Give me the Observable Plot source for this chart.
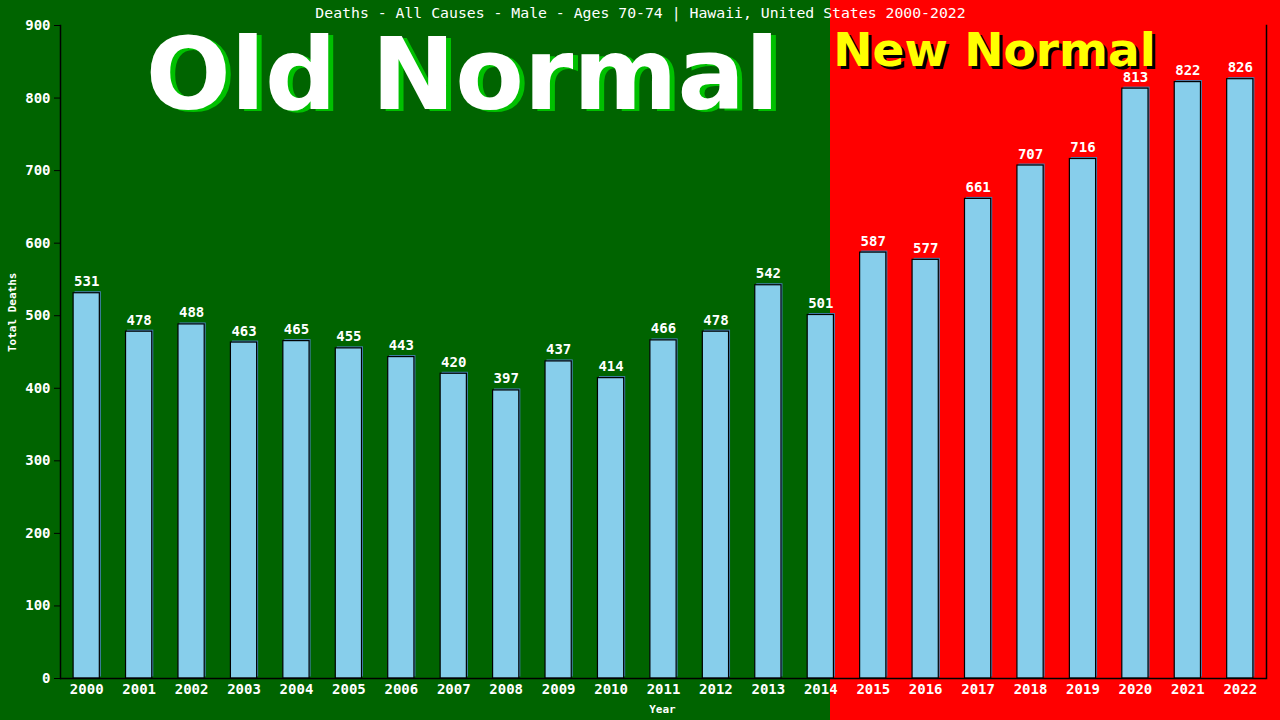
<!DOCTYPE html>
<html>
<head>
<meta charset="utf-8">
<script src="https://cdn.jsdelivr.net/npm/d3@7"></script>
<script src="https://cdn.jsdelivr.net/npm/@observablehq/plot@0.6"></script>
<style>
  html, body { margin: 0; padding: 0; width: 1280px; height: 720px; overflow: hidden;
    background: linear-gradient(to right, #006400 830px, #ff0000 830px); }
</style>
</head>
<body>
<div id="chart"></div>
<script>
const years = ["2000","2001","2002","2003","2004","2005","2006","2007","2008","2009","2010","2011","2012","2013","2014","2015","2016","2017","2018","2019","2020","2021","2022"];
const deaths = [531,478,488,463,465,455,443,420,397,437,414,466,478,542,501,587,577,661,707,716,813,822,826];
const yTicks = [0,100,200,300,400,500,600,700,800,900];
const title = "Deaths - All Causes - Male - Ages 70-74 | Hawaii, United States 2000-2022";
const xLabel = "Year";
const yLabel = "Total Deaths";
const oldLabel = "Old Normal";
const newLabel = "New Normal";

const data = years.map((y, i) => ({year: y, value: deaths[i]}));
const mono = "DejaVu Sans Mono, monospace";
const sans = "DejaVu Sans, sans-serif";

const chart = Plot.plot({
  width: 1280,
  height: 720,
  marginLeft: 60,
  marginRight: 14,
  marginTop: 25,
  marginBottom: 42,
  style: {background: "transparent", fontFamily: mono, color: "white"},
  x: {domain: years, paddingInner: 0.5, paddingOuter: 0.25, align: 0.5, round: false},
  y: {domain: [0, 900]},
  marks: [
    Plot.text([oldLabel], {frameAnchor: "top-left", text: d => d, dx: 407, dy: 85, lineAnchor: "bottom", fill: "#00c000", fontSize: 100, fontWeight: "bold", fontFamily: sans, textAnchor: "middle"}),
    Plot.text([oldLabel], {frameAnchor: "top-left", text: d => d, dx: 402, dy: 83, lineAnchor: "bottom", fill: "white", fontSize: 100, fontWeight: "bold", fontFamily: sans, textAnchor: "middle"}),
    Plot.text([newLabel], {frameAnchor: "top-left", text: d => d, dx: 937, dy: 43, lineAnchor: "bottom", fill: "black", fontSize: 47, fontWeight: "bold", fontFamily: sans, textAnchor: "middle"}),
    Plot.text([newLabel], {frameAnchor: "top-left", text: d => d, dx: 934, dy: 40, lineAnchor: "bottom", fill: "#ffff00", fontSize: 47, fontWeight: "bold", fontFamily: sans, textAnchor: "middle"}),
    Plot.barY(data, {x: "year", y: "value", fill: "#4682b4", dx: 1.5, dy: -1.5}),
    Plot.barY(data, {x: "year", y: "value", fill: "#87ceeb", stroke: "black", strokeWidth: 1.2}),
    Plot.text(data, {x: "year", y: "value", text: d => String(d.value), dy: -7, lineAnchor: "bottom", fill: "white", fontSize: 14, fontWeight: "bold", fontFamily: mono}),
    Plot.axisY({ticks: yTicks, tickSize: 6, tickPadding: 4, stroke: "black", fill: "white", fontSize: 14, fontWeight: "bold", label: null}),
    Plot.axisX({tickSize: 0, tickPadding: 6, fill: "white", fontSize: 14, fontWeight: "bold", label: null}),
    Plot.ruleY([0], {stroke: "black", strokeWidth: 1.5}),
    Plot.frame({anchor: "left", stroke: "black", strokeWidth: 1.5}),
    Plot.frame({anchor: "right", stroke: "black", strokeWidth: 1.5}),
    Plot.text([title], {frameAnchor: "top", text: d => d, dx: -23, dy: -12, lineAnchor: "middle", fill: "white", fontSize: 14.8, fontFamily: mono}),
    Plot.text([xLabel], {frameAnchor: "bottom", text: d => d, dx: -1, dy: 31, lineAnchor: "middle", fill: "white", fontSize: 11, fontWeight: "bold", fontFamily: mono}),
    Plot.text([yLabel], {frameAnchor: "left", text: d => d, dx: -48, rotate: -90, lineAnchor: "middle", fill: "white", fontSize: 11, fontWeight: "bold", fontFamily: mono})
  ]
});
document.getElementById("chart").appendChild(chart);
</script>
</body>
</html>
